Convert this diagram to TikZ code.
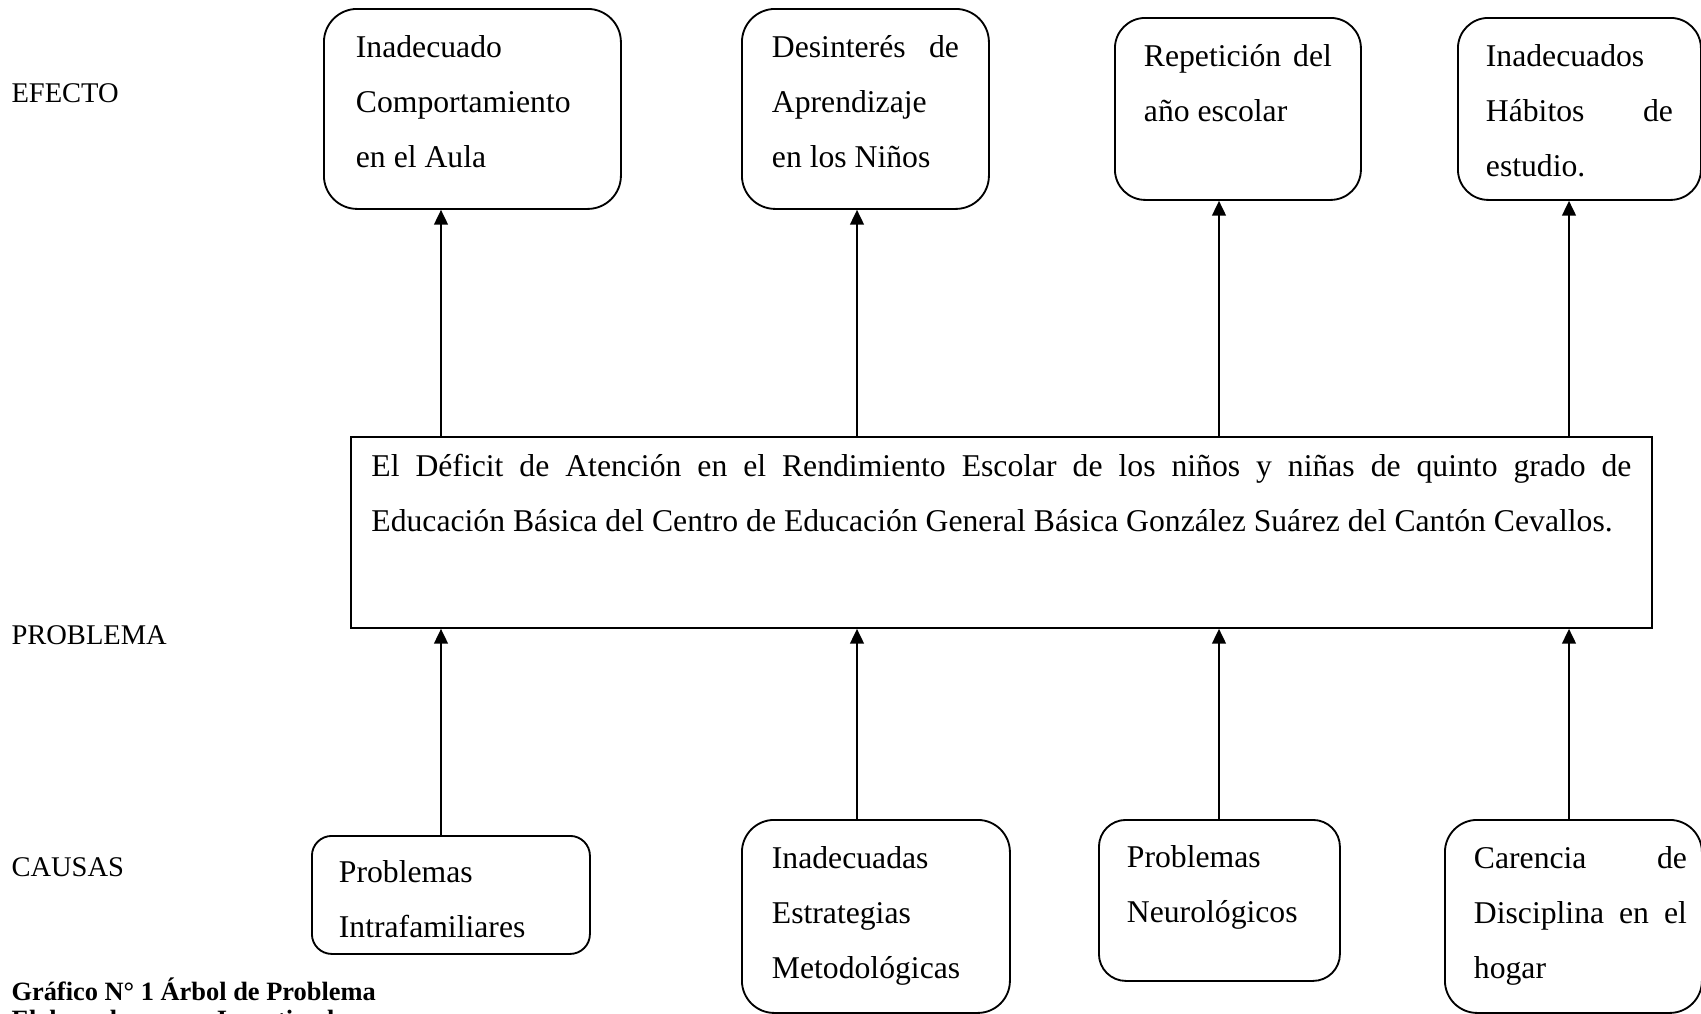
\documentclass[tikz,border=0pt]{standalone}
\usepackage{fontspec}
\setmainfont{Liberation Serif}
\usetikzlibrary{arrows.meta}

\newlength{\pxu}
\setlength{\pxu}{0.3788pt}
\newcommand{\boxtext}[4]{\parbox[t][#2\pxu][t]{#1\pxu}{\fontsize{12pt}{55\pxu}\selectfont\tolerance=10000\hyphenpenalty=10000\rule{0pt}{#3\pxu}#4}}

\tikzset{
  treebox/.style={draw, line width=0.7pt, anchor=north west, inner ysep=0pt},
  sidelabel/.style={anchor=base west, inner sep=0pt, font=\fontsize{10.8pt}{13pt}\selectfont},
  capt/.style={anchor=base west, inner sep=0pt, font=\fontsize{10pt}{12pt}\selectfont\bfseries},
  arr/.style={-{Triangle[length=5.6pt,width=5.2pt]}, line width=0.75pt},
}

\begin{document}
\begin{tikzpicture}[x=\pxu, y=-\pxu]
        \path[use as bounding box, clip] (0,0) rectangle (1701,1013);

        \node[treebox, rounded corners=12.6pt, inner xsep=32\pxu] at (323,8)  (ef1) {\boxtext{233}{200}{49}{Inadecuado\\ Comportamiento\\ en el Aula}};
        \node[treebox, rounded corners=12.6pt, inner xsep=30\pxu] at (741,8)  (ef2) {\boxtext{187}{200}{49}{Desinterés de\linebreak Aprendizaje\\ en los Niños}};
        \node[treebox, rounded corners=11.5pt, inner xsep=29\pxu] at (1114,17) (ef3) {\boxtext{188}{182}{49}{Repetición del\linebreak año escolar}};
        \node[treebox, rounded corners=11.5pt, inner xsep=28\pxu] at (1457,17) (ef4) {\boxtext{187}{182}{49}{Inadecuados\\ Hábitos\hfill de\\ estudio.}};

        \node[treebox, inner xsep=20.5\pxu] at (350,436) (prob) {\boxtext{1260}{191}{40}{El Déficit de Atención en el Rendimiento Escolar de los niños y niñas de quinto grado de\linebreak Educación Básica del Centro de Educación General Básica González Suárez del Cantón Cevallos.}};

        \node[treebox, rounded corners=7.5pt, inner xsep=27\pxu] at (311,835)  (ca1) {\boxtext{224}{118}{47}{Problemas\\ Intrafamiliares}};
        \node[treebox, rounded corners=12.2pt, inner xsep=30\pxu] at (741,819) (ca2) {\boxtext{208}{193}{49}{Inadecuadas\\ Estrategias\\ Metodológicas}};
        \node[treebox, rounded corners=10.2pt, inner xsep=28\pxu] at (1098,819) (ca3) {\boxtext{185}{161}{48}{Problemas\\ Neurológicos}};
        \node[treebox, rounded corners=12.2pt, inner xsep=15\pxu] at (1444,819) (ca4) {\hspace*{14\pxu}\boxtext{213}{193}{49}{Carencia\hfill de\\ Disciplina en el\linebreak hogar}};

        \node[sidelabel] at (11,102) (lbef) {EFECTO};
        \node[sidelabel] at (11,644) (lbpr) {PROBLEMA};
        \node[sidelabel] at (11,876) (lbca) {CAUSAS};

        \node[capt] at (11,1000) (cap1) {Gráfico N° 1 Árbol de Problema};
        \node[capt] at (11,1028) (cap2) {Elaborado por:\hspace{1.2em}Investigador};

        \coordinate (k1) at (441,0);
        \coordinate (k2) at (857,0);
        \coordinate (k3) at (1219,0);
        \coordinate (k4) at (1569,0);

        \draw[arr] (k1 |- prob.north) -- (k1 |- ef1.south);
        \draw[arr] (k2 |- prob.north) -- (k2 |- ef2.south);
        \draw[arr] (k3 |- prob.north) -- (k3 |- ef3.south);
        \draw[arr] (k4 |- prob.north) -- (k4 |- ef4.south);

        \draw[arr] (k1 |- ca1.north) -- (k1 |- prob.south);
        \draw[arr] (k2 |- ca2.north) -- (k2 |- prob.south);
        \draw[arr] (k3 |- ca3.north) -- (k3 |- prob.south);
        \draw[arr] (k4 |- ca4.north) -- (k4 |- prob.south);
\end{tikzpicture}
\end{document}
